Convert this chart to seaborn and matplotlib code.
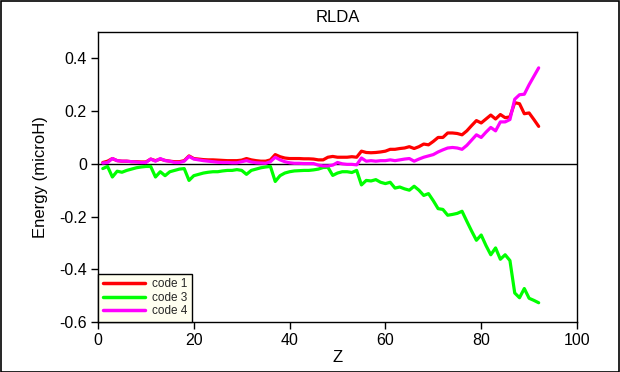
import numpy as np
import pandas as pd
import matplotlib
matplotlib.use("Agg")
import matplotlib.pyplot as plt
import seaborn as sns
from matplotlib.patches import Rectangle

Z = list(range(1, 93))

code1 = [0.005, 0.01, 0.02, 0.012, 0.01, 0.01, 0.008, 0.008, 0.007, 0.007,
         0.018, 0.012, 0.018, 0.013, 0.01, 0.008, 0.008, 0.012, 0.03, 0.02,
         0.018, 0.016, 0.015, 0.015, 0.014, 0.013, 0.012, 0.012, 0.012, 0.014,
         0.02, 0.015, 0.012, 0.01, 0.01, 0.015, 0.035, 0.027, 0.022, 0.02,
         0.02, 0.02, 0.019, 0.019, 0.018, 0.015, 0.015, 0.025, 0.028, 0.025,
         0.025, 0.025, 0.027, 0.025, 0.048, 0.043, 0.042, 0.043, 0.045, 0.048,
         0.055, 0.055, 0.058, 0.06, 0.065, 0.058, 0.065, 0.075, 0.072, 0.085,
         0.1, 0.1, 0.117, 0.117, 0.115, 0.11, 0.125, 0.145, 0.164, 0.155,
         0.17, 0.185, 0.17, 0.187, 0.175, 0.178, 0.232, 0.228, 0.19, 0.193,
         0.168, 0.142]

code3 = [-0.018, -0.01, -0.05, -0.028, -0.032, -0.025, -0.02, -0.015, -0.012, -0.01,
         -0.01, -0.05, -0.03, -0.045, -0.03, -0.025, -0.02, -0.018, -0.063, -0.045,
         -0.04, -0.035, -0.032, -0.03, -0.03, -0.027, -0.025, -0.025, -0.022, -0.025,
         -0.04, -0.025, -0.02, -0.015, -0.012, -0.01, -0.067, -0.045, -0.035, -0.03,
         -0.027, -0.026, -0.025, -0.025, -0.023, -0.02, -0.014, -0.013, -0.044, -0.035,
         -0.03, -0.03, -0.033, -0.025, -0.08, -0.063, -0.065, -0.06, -0.07, -0.075,
         -0.07, -0.092, -0.088, -0.095, -0.1, -0.085, -0.1, -0.12, -0.113, -0.14,
         -0.17, -0.173, -0.195, -0.192, -0.188, -0.18, -0.218, -0.255, -0.29, -0.27,
         -0.31, -0.345, -0.319, -0.362, -0.345, -0.367, -0.49, -0.508, -0.473, -0.51,
         -0.518, -0.527]

code4 = [0.003, 0.005, 0.02, 0.012, 0.01, 0.01, 0.008, 0.007, 0.005, 0.005,
         0.018, 0.01, 0.02, 0.012, 0.01, 0.005, 0.005, 0.01, 0.028, 0.018,
         0.015, 0.012, 0.01, 0.008, 0.006, 0.005, 0.005, 0.004, 0.004, 0.008,
         0.012, 0.007, 0.004, 0.003, 0.002, 0.008, 0.025, 0.015, 0.008, 0.004,
         0.002, 0.002, 0.001, 0.001, 0.001, -0.005, -0.008, -0.008, -0.005, 0.005,
         0.0, -0.002, -0.002, -0.004, 0.022, 0.01, 0.012, 0.01, 0.012, 0.012,
         0.015, 0.012, 0.015, 0.018, 0.02, 0.01, 0.018, 0.025, 0.03, 0.035,
         0.045, 0.053, 0.06, 0.062, 0.06, 0.055, 0.07, 0.09, 0.11, 0.1,
         0.12, 0.138, 0.125, 0.159, 0.159, 0.168, 0.245, 0.262, 0.264, 0.3,
         0.332, 0.364]

labels = ["code 1", "code 3", "code 4"]
colors = ["#ff0000", "#00ff00", "#ff00ff"]

df = pd.DataFrame({
    "Z": Z * 3,
    "E": code1 + code3 + code4,
    "code": [labels[0]] * len(Z) + [labels[1]] * len(Z) + [labels[2]] * len(Z),
})

sns.set_theme(style="white")
plt.rcParams["font.family"] = ["Liberation Sans", "DejaVu Sans"]

fig = plt.figure(figsize=(6.2, 3.72), dpi=100)
ax = fig.add_axes([98 / 620, 1 - 322 / 372, (577 - 98) / 620, (322 - 32) / 372])

ax.axhline(0, color="black", lw=1.0, zorder=1)
sns.lineplot(data=df, x="Z", y="E", hue="code", palette=dict(zip(labels, colors)),
             lw=2.3, ax=ax, zorder=2)

ax.set_xlim(0, 100)
ax.set_ylim(-0.6, 0.5)
ax.set_xticks([0, 20, 40, 60, 80, 100])
ax.set_yticks([-0.6, -0.4, -0.2, 0, 0.2, 0.4])
ax.set_yticklabels(["-0.6", "-0.4", "-0.2", "0", "0.2", "0.4"])
ax.tick_params(axis="both", direction="out", length=5, width=1, color="black",
               labelsize=11.5, bottom=True, left=True, pad=3, labelcolor="black")
for s in ax.spines.values():
    s.set_color("black")
    s.set_linewidth(1.0)

ax.set_xlabel("Z", fontsize=12, color="black", labelpad=1)
ax.set_ylabel("Energy (microH)", fontsize=12, color="black", labelpad=8)
ax.set_title("RLDA", fontsize=12, color="black", pad=7)

leg = ax.legend(loc="lower left", fontsize=8.5, frameon=True, fancybox=False,
                borderaxespad=0.0, handlelength=3.6, handletextpad=0.6,
                labelspacing=0.12, borderpad=0.4, title=None)
leg.get_frame().set_edgecolor("black")
leg.get_frame().set_facecolor("#fffff0")
leg.get_frame().set_linewidth(1.0)
leg.get_frame().set_alpha(1)
for line in leg.get_lines():
    line.set_linewidth(2.5)

fig.patches.append(Rectangle((0.001, 0.001), 0.997, 0.996, transform=fig.transFigure,
                             fill=False, edgecolor="black", lw=1.2))

fig.savefig("out.png", dpi=100, facecolor="white")
